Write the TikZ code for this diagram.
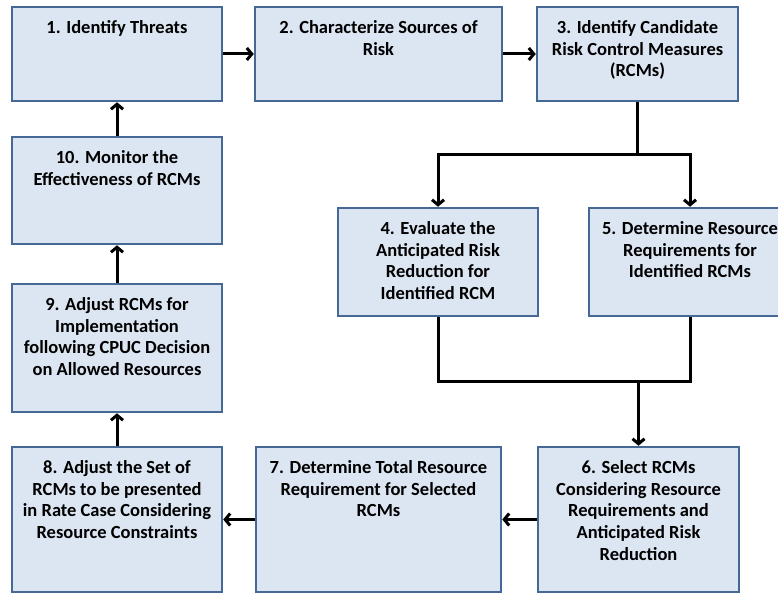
\documentclass[tikz,border=0pt]{standalone}
\usepackage{fontspec}
\setmainfont{Carlito}
\usetikzlibrary{arrows.meta}

\definecolor{boxfill}{RGB}{220,230,242}
\definecolor{boxline}{RGB}{70,104,150}

\begin{document}
\begin{tikzpicture}[x=1pt, y=-1pt, >={Straight Barb[length=5pt,width=12pt]},
    box/.style={draw=boxline, fill=boxfill, line width=2.5pt, inner sep=0pt},
    lbl/.style={below=14.5pt, align=center, inner sep=0pt, font=\fontsize{18.5}{21.7}\selectfont\bfseries},
    flow/.style={line width=3pt, ->}]
  \useasboundingbox (0,0) rectangle (778,594);

  % top row
  \node[box, minimum width=210pt, minimum height=94pt, label={[lbl]north:{1. Identify Threats}}] (threats) at (117,54) {};
  \node[box, minimum width=247pt, minimum height=94pt, label={[lbl]north:{2. Characterize Sources of\\Risk}}] (sources) at (378.5,54) {};
  \node[box, minimum width=201pt, minimum height=94pt, label={[lbl]north:{3. Identify Candidate\\Risk Control Measures\\(RCMs)}}] (candidates) at (637.5,54) {};

  % middle row
  \node[box, minimum width=200pt, minimum height=108pt, label={[lbl]north:{4. Evaluate the\\Anticipated Risk\\Reduction for\\Identified RCM}}] (evaluate) at (438,262) {};
  \node[box, minimum width=202pt, minimum height=108pt, label={[lbl]north:{5. Determine Resource\\Requirements for\\Identified RCMs}}] (resource) at (690,262) {};

  % bottom row
  \node[box, minimum width=201pt, minimum height=145pt, label={[lbl]north:{6. Select RCMs\\Considering Resource\\Requirements and\\Anticipated Risk\\Reduction}}] (select) at (638.5,519.5) {};
  \node[box, minimum width=245pt, minimum height=145pt, label={[lbl]north:{7. Determine Total Resource\\Requirement for Selected\\RCMs}}] (total) at (378.5,519.5) {};
  \node[box, minimum width=210pt, minimum height=145pt, label={[lbl]north:{8. Adjust the Set of\\RCMs to be presented\\in Rate Case Considering\\Resource Constraints}}] (adjustset) at (117,519.5) {};

  % left column
  \node[box, minimum width=210pt, minimum height=128pt, label={[lbl]north:{9. Adjust RCMs for\\Implementation\\following CPUC Decision\\on Allowed Resources}}] (adjust) at (117,348) {};
  \node[box, minimum width=210pt, minimum height=107pt, label={[lbl]north:{10. Monitor the\\Effectiveness of RCMs}}] (monitor) at (117,190.5) {};

  % split and join points
  \coordinate (fork) at (637.5,154);
  \coordinate (join) at (638.5,381);

  \draw[flow] (threats) -- (sources);
  \draw[flow] (sources) -- (candidates);
  \draw[line width=3pt] (candidates.south) -- (fork);
  \draw[flow] (fork) -| (evaluate.north);
  \draw[flow] (fork) -| (resource.north);
  \draw[line width=3pt] (evaluate.south) |- (join) -| (resource.south);
  \draw[flow] (join) -- (select.north);
  \draw[flow] (select) -- (total);
  \draw[flow] (total) -- (adjustset);
  \draw[flow] (adjustset) -- (adjust);
  \draw[flow] (adjust) -- (monitor);
  \draw[flow] (monitor) -- (threats);
\end{tikzpicture}
\end{document}
